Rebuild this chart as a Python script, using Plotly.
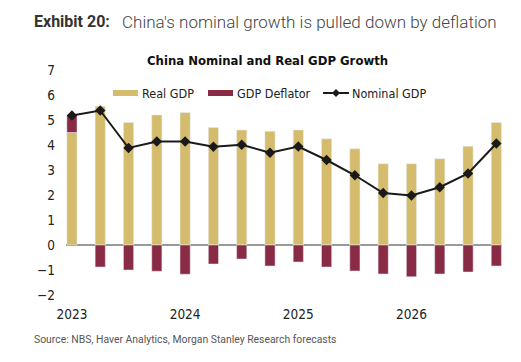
import plotly.graph_objects as go

quarters = list(range(16))
tick_pos = [0, 4, 8, 12]
tick_labels = ["2023", "2024", "2025", "2026"]
real_gdp = [4.5, 5.55, 4.9, 5.2, 5.3, 4.7, 4.6, 4.55, 4.6, 4.25, 3.85, 3.25, 3.25, 3.45, 3.95, 4.9]
gdp_deflator = [0.7, -0.88, -1.0, -1.05, -1.17, -0.76, -0.56, -0.84, -0.68, -0.88, -1.04, -1.16, -1.27, -1.16, -1.08, -0.84]
nominal_gdp = [5.18, 5.38, 3.88, 4.14, 4.14, 3.93, 4.01, 3.69, 3.94, 3.4, 2.79, 2.08, 1.98, 2.31, 2.86, 4.06]

YELLOW = "#D5BC6C"
RED = "#8A2B45"
FONT = "Roboto"
NARROW = "DejaVu Sans Condensed"

fig = go.Figure()
fig.add_trace(go.Bar(x=quarters, y=real_gdp, marker_color=YELLOW, width=0.36, name="Real GDP"))
fig.add_trace(go.Bar(x=quarters, y=gdp_deflator, marker_color=RED, width=0.36, name="GDP Deflator"))
fig.add_trace(go.Scatter(x=quarters, y=nominal_gdp, mode="lines+markers", name="Nominal GDP",
                         line=dict(color="#1a1a1a", width=2),
                         marker=dict(symbol="diamond", size=8, color="#1a1a1a")))

fig.update_layout(
    width=521, height=362,
    margin=dict(l=66, r=19, t=70, b=67),
    barmode="relative",
    paper_bgcolor="white", plot_bgcolor="white",
    showlegend=False,
    font=dict(family=FONT, size=13, color="#222"),
    xaxis=dict(range=[-0.21, 15.2], tickvals=tick_pos, ticktext=tick_labels,
               showgrid=False, zeroline=False, ticks="", ticklabelstandoff=9,
               tickfont=dict(family=NARROW, size=13.5, color="#222")),
    yaxis=dict(range=[-2, 7], dtick=1, showgrid=False, zeroline=True,
               zerolinecolor="#999999", zerolinewidth=2, ticks="", ticklabelstandoff=10,
               tickfont=dict(family=NARROW, size=13.5, color="#222")),
)

def px2x(px):
    return (px - 66) / 436

def py2y(py):
    return (295 - py) / 225

# Title
fig.add_annotation(xref="paper", yref="paper", x=px2x(32), y=py2y(22), xanchor="left", yanchor="middle",
                   text="<b>Exhibit 20:</b>", showarrow=False, font=dict(size=16, color="#333"))
fig.add_annotation(xref="paper", yref="paper", x=px2x(120), y=py2y(22), xanchor="left", yanchor="middle",
                   text="China's nominal growth is pulled down by deflation", showarrow=False,
                   font=dict(size=17, color="#444", weight=300))
fig.add_annotation(xref="paper", yref="paper", x=px2x(267), y=py2y(61), xanchor="center", yanchor="middle",
                   text="<b>China Nominal and Real GDP Growth</b>", showarrow=False,
                   font=dict(family=NARROW, size=13, color="#111"))
# Source
fig.add_annotation(xref="paper", yref="paper", x=px2x(32), y=py2y(339), xanchor="left", yanchor="middle",
                   text="Source: NBS, Haver Analytics, Morgan Stanley Research forecasts", showarrow=False,
                   font=dict(size=10.4, color="#555"))

# Custom legend
ly = 93
LEG = dict(family=NARROW, size=12.5, color="#222")
fig.add_shape(type="rect", xref="paper", yref="paper", x0=px2x(113), x1=px2x(138), y0=py2y(96), y1=py2y(90),
              fillcolor=YELLOW, line_width=0)
fig.add_annotation(xref="paper", yref="paper", x=px2x(140), y=py2y(ly), xanchor="left", yanchor="middle",
                   text="Real GDP", showarrow=False, font=LEG)
fig.add_shape(type="rect", xref="paper", yref="paper", x0=px2x(208), x1=px2x(233), y0=py2y(96), y1=py2y(90),
              fillcolor=RED, line_width=0)
fig.add_annotation(xref="paper", yref="paper", x=px2x(235), y=py2y(ly), xanchor="left", yanchor="middle",
                   text="GDP Deflator", showarrow=False, font=LEG)
fig.add_shape(type="line", xref="paper", yref="paper", x0=px2x(323), x1=px2x(349), y0=py2y(ly), y1=py2y(ly),
              line=dict(color="#1a1a1a", width=2))
fig.add_shape(type="path", xref="paper", yref="paper",
              path=f"M {px2x(336)},{py2y(ly-4)} L {px2x(340)},{py2y(ly)} L {px2x(336)},{py2y(ly+4)} L {px2x(332)},{py2y(ly)} Z",
              fillcolor="#1a1a1a", line_width=0)
fig.add_annotation(xref="paper", yref="paper", x=px2x(350), y=py2y(ly), xanchor="left", yanchor="middle",
                   text="Nominal GDP", showarrow=False, font=LEG)

fig.write_html("out.html", config={"displayModeBar": False},
               post_script="document.body.style.margin='0';")
